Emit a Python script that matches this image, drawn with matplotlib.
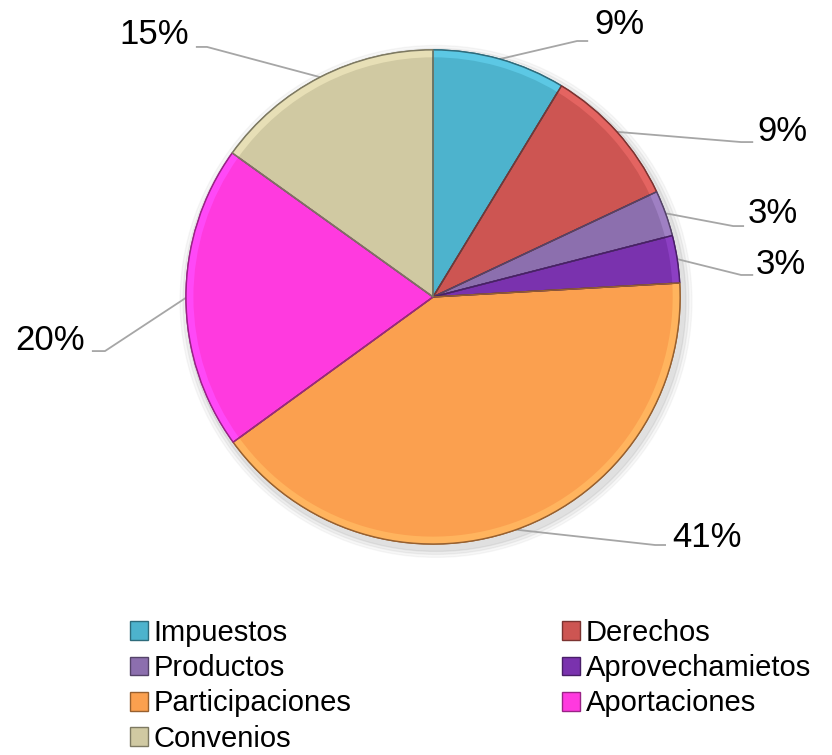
import numpy as np
import matplotlib
matplotlib.use('Agg')
import matplotlib.pyplot as plt
from matplotlib.patches import Patch, Wedge
import matplotlib.colors as mcolors

plt.rcParams['font.family'] = ['Liberation Sans', 'DejaVu Sans']

# data
categories = ['Impuestos', 'Derechos', 'Productos', 'Aprovechamietos',
              'Participaciones', 'Aportaciones', 'Convenios']
values = [8.7, 9.3, 3.0, 3.1, 40.9, 19.9, 15.1]
labels = ['9%', '9%', '3%', '3%', '41%', '20%', '15%']
colors = ['#4DB3CD', '#CD5552', '#8C6FAE', '#7A32AE', '#FBA04F', '#FF3ADF', '#D0C9A2']

# where the percentage labels sit (pie centre = 0,0, radius = 1)
label_pos = [(0.753, 1.101), (1.413, 0.668), (1.377, 0.336), (1.409, 0.130),
             (1.109, -0.972), (-1.551, -0.178), (-1.130, 1.061)]
elbow_pos = [(0.583, 1.036), (1.247, 0.627), (1.215, 0.287), (1.247, 0.089),
             (0.899, -1.004), (-1.328, -0.219), (-0.915, 1.012)]
end_pos = [(0.628, 1.036), (1.296, 0.627), (1.259, 0.287), (1.296, 0.089),
           (0.943, -1.004), (-1.381, -0.219), (-0.960, 1.012)]

fig = plt.figure(figsize=(8.32, 7.55), dpi=100)
ax = fig.add_axes([0, 0, 1, 1])

# soft shadow under the pie
for i, a in enumerate([0.05, 0.04, 0.03]):
    sh = plt.Circle((0.012, -0.018), 1.0 + 0.012 * (i + 1), color='black', alpha=a, zorder=0)
    ax.add_patch(sh)

wedges, _ = ax.pie(values, colors=colors, startangle=90, counterclock=False,
                   radius=1.0, center=(0, 0), frame=True,
                   wedgeprops=dict(linewidth=1.0))
for w, c in zip(wedges, colors):
    rgb = np.array(mcolors.to_rgb(c))
    dark = tuple(rgb * 0.6)
    w.set_edgecolor(dark)
    w.set_zorder(2)
    # light bevel rim along the outside
    rim = Wedge((0, 0), 1.0, w.theta1, w.theta2, width=0.03,
                facecolor=tuple(np.minimum(rgb * 1.06 + 0.04, 1)), edgecolor='none', zorder=3)
    ax.add_patch(rim)
    ax.add_patch(Wedge((0, 0), 1.0, w.theta1, w.theta2, facecolor='none',
                       edgecolor=dark, linewidth=1.0, zorder=4))

ax.set_xlim(-1.753, 1.615)
ax.set_ylim(-1.854, 1.202)
ax.set_aspect('auto')
ax.axis('off')

for w, lab, tp, ep, en in zip(wedges, labels, label_pos, elbow_pos, end_pos):
    mid = np.deg2rad((w.theta1 + w.theta2) / 2)
    sx, sy = np.cos(mid), np.sin(mid)
    ax.plot([sx, ep[0], en[0]], [sy, ep[1], en[1]], color='#A6A6A6', lw=1.3, zorder=1,
            solid_capstyle='butt')
    ax.text(tp[0], tp[1], lab, fontsize=25, ha='center', va='center', color='black')

order = [0, 2, 4, 6, 1, 3, 5]
handles = [Patch(facecolor=colors[i], edgecolor=tuple(np.array(mcolors.to_rgb(colors[i])) * 0.6))
           for i in order]
leg = fig.legend(handles, [categories[i] for i in order], ncol=2,
                 loc='upper left', bbox_to_anchor=(0.156, 0.180),
                 frameon=False, fontsize=21, handlelength=0.62, handleheight=0.62,
                 handletextpad=0.2, labelspacing=0.245, columnspacing=7.2,
                 borderaxespad=0, borderpad=0)

fig.savefig('out.png', dpi=100)
